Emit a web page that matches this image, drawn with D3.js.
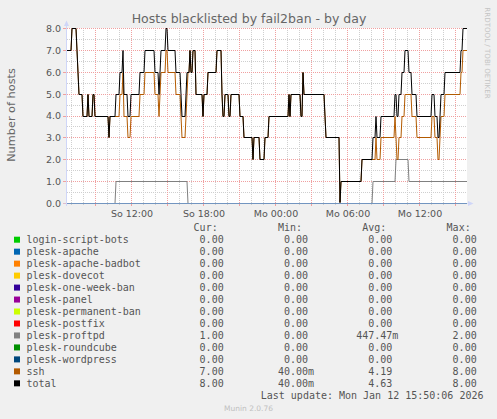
<!DOCTYPE html>
<html>
<head>
<meta charset="utf-8">
<script src="https://cdn.jsdelivr.net/npm/d3@7"></script>
<style>
  body { margin: 0; background: #f0f0f0; }
  svg { display: block; }
  text { font-family: "DejaVu Sans", sans-serif; }
  .mono { font-family: "DejaVu Sans Mono", monospace; font-size: 10px; fill: #555; }
</style>
</head>
<body>
<div id="chart"></div>
<script>
// ----- Data -----
// [day-of-month + time, value]; each value holds until the next point
const total = [
  ["11T06:35", 7], ["11T07:00", 8], ["11T07:25", 7], ["11T07:30", 6], ["11T07:35", 5],
  ["11T07:55", 4], ["11T08:20", 5], ["11T08:25", 4], ["11T08:45", 5], ["11T08:55", 4],
  ["11T10:05", 3], ["11T10:10", 4], ["11T10:40", 5], ["11T11:00", 6], ["11T11:15", 7],
  ["11T11:20", 5], ["11T11:40", 4], ["11T11:55", 5], ["11T12:40", 6], ["11T13:05", 7],
  ["11T13:55", 6], ["11T14:15", 5], ["11T14:20", 6], ["11T14:25", 7], ["11T14:50", 8],
  ["11T15:00", 7], ["11T15:40", 6], ["11T16:05", 5], ["11T16:10", 4], ["11T16:30", 5],
  ["11T16:35", 6], ["11T16:50", 7], ["11T16:55", 6], ["11T17:05", 7], ["11T17:20", 5],
  ["11T17:55", 4], ["11T18:00", 5], ["11T18:20", 6], ["11T19:05", 7], ["11T19:30", 5],
  ["11T19:35", 4], ["11T19:45", 5], ["11T20:05", 4], ["11T20:15", 5], ["11T21:00", 4],
  ["11T21:20", 3], ["11T22:05", 2], ["11T22:10", 3], ["11T22:40", 2], ["11T23:05", 3],
  ["11T23:25", 4], ["12T01:05", 5], ["12T01:10", 4], ["12T01:15", 5], ["12T02:05", 4],
  ["12T02:15", 6], ["12T02:20", 5], ["12T04:05", 4], ["12T04:10", 3], ["12T05:20", 0.04],
  ["12T05:25", 1], ["12T07:10", 2], ["12T08:05", 3], ["12T08:20", 4], ["12T08:25", 3],
  ["12T08:45", 4], ["12T09:55", 5], ["12T10:05", 4], ["12T10:15", 5], ["12T10:30", 6],
  ["12T10:45", 7], ["12T11:05", 6], ["12T11:20", 5], ["12T11:45", 4], ["12T13:00", 5],
  ["12T13:15", 4], ["12T13:30", 3], ["12T13:40", 4], ["12T13:45", 5], ["12T14:05", 6],
  ["12T15:25", 7], ["12T15:35", 8], ["12T15:55", 8]
];

const ssh = [
  ["11T06:35", 7], ["11T07:00", 8], ["11T07:25", 7], ["11T07:30", 6], ["11T07:35", 5],
  ["11T07:55", 4], ["11T08:20", 5], ["11T08:25", 4], ["11T08:45", 5], ["11T08:55", 4],
  ["11T10:05", 3], ["11T10:10", 4], ["11T11:00", 5], ["11T11:15", 6], ["11T11:20", 4],
  ["11T11:40", 3], ["11T11:55", 4], ["11T12:40", 5], ["11T13:05", 6], ["11T13:55", 5],
  ["11T14:15", 4], ["11T14:20", 5], ["11T14:25", 6], ["11T14:50", 7], ["11T15:00", 6],
  ["11T15:40", 5], ["11T16:05", 4], ["11T16:10", 3], ["11T16:30", 4], ["11T16:35", 5],
  ["11T16:40", 6], ["11T16:50", 7], ["11T16:55", 6], ["11T17:05", 7], ["11T17:20", 5],
  ["11T17:55", 4], ["11T18:00", 5], ["11T18:20", 6], ["11T19:05", 7], ["11T19:30", 5],
  ["11T19:35", 4], ["11T19:45", 5], ["11T20:05", 4], ["11T20:15", 5], ["11T21:00", 4],
  ["11T21:20", 3], ["11T22:05", 2], ["11T22:10", 3], ["11T22:40", 2], ["11T23:05", 3],
  ["11T23:25", 4], ["12T01:05", 5], ["12T01:10", 4], ["12T01:15", 5], ["12T02:05", 4],
  ["12T02:15", 6], ["12T02:20", 5], ["12T04:05", 4], ["12T04:10", 3], ["12T05:20", 0.04],
  ["12T05:25", 1], ["12T07:10", 2], ["12T08:20", 3], ["12T08:25", 2], ["12T08:45", 3],
  ["12T09:55", 4], ["12T10:00", 3], ["12T10:05", 2], ["12T10:15", 3], ["12T10:30", 4],
  ["12T10:45", 5], ["12T11:20", 4], ["12T11:45", 3], ["12T13:00", 4], ["12T13:15", 3],
  ["12T13:30", 2], ["12T13:40", 3], ["12T13:45", 4], ["12T14:05", 5], ["12T15:25", 6],
  ["12T15:35", 7], ["12T15:55", 7]
];

const proftpd = [
  ["11T06:35", 0], ["11T10:40", 1], ["11T16:40", 0], ["12T08:05", 1],
  ["12T10:00", 2], ["12T11:05", 1], ["12T15:55", 1]
];

// all other jails stayed at zero the whole day
const zero = [["11T06:35", 0], ["12T15:55", 0]];

const names = [
  "login-script-bots", "plesk-apache", "plesk-apache-badbot", "plesk-dovecot",
  "plesk-one-week-ban", "plesk-panel", "plesk-permanent-ban", "plesk-postfix",
  "plesk-proftpd", "plesk-roundcube", "plesk-wordpress", "ssh", "total"
];
const colors = [
  "#00CC00", "#0066B3", "#FF8000", "#FFCC00", "#330099", "#990099", "#CCFF00",
  "#FF0000", "#808080", "#008F00", "#00487D", "#B35A00", "#000000"
];
const curVals = ["0.00","0.00","0.00","0.00","0.00","0.00","0.00","0.00","1.00","0.00","0.00","7.00","8.00"];
const minVals = ["0.00","0.00","0.00","0.00","0.00","0.00","0.00","0.00","0.00","0.00","0.00","40.00m","40.00m"];
const avgVals = ["0.00","0.00","0.00","0.00","0.00","0.00","0.00","0.00","447.47m","0.00","0.00","4.19","4.63"];
const maxVals = ["0.00","0.00","0.00","0.00","0.00","0.00","0.00","0.00","2.00","0.00","0.00","8.00","8.00"];

const yTicks = [0, 1, 2, 3, 4, 5, 6, 7, 8];
const dayNames = ["So", "Mo", "Di", "Mi", "Do", "Fr", "Sa"];

// ----- Config -----
const width = 497, height = 419;
const parse = s => d3.timeParse("%Y-%m-%dT%H:%M")("2026-01-" + s);
const seriesData = [zero, zero, zero, zero, zero, zero, zero, zero, proftpd, zero, zero, ssh, total];

const svg = d3.select("#chart").append("svg")
  .attr("width", width).attr("height", height);

svg.append("rect").attr("width", width).attr("height", height).attr("fill", "#f0f0f0");

const x = d3.scaleTime()
  .domain([parse("11T06:35"), parse("12T15:55")])
  .range([67, 467]);
const y = d3.scaleLinear().domain([0, 8]).range([203.5, 28.5]);

// canvas
svg.append("rect").attr("x", 67).attr("y", 28).attr("width", 400).attr("height", 175).attr("fill", "#fff");

// ----- Grid -----
const hours = x.ticks(d3.timeHour.every(1));
const major = hours.filter(d => d.getHours() % 3 === 0);
const px = d => Math.round(x(d)) - 0.5;
const py = v => Math.round(y(v) - 0.5) + 0.5;   // snap to pixel centres

svg.append("g").selectAll("line").data(hours.filter(d => d.getHours() % 3 !== 0)).join("line")
  .attr("x1", px).attr("x2", px).attr("y1", 28).attr("y2", 203)
  .attr("stroke", "#cfcfcf").attr("stroke-dasharray", "1,1");
svg.append("g").selectAll("line").data(d3.range(0.5, 8, 1)).join("line")
  .attr("x1", 67).attr("x2", 467).attr("y1", py).attr("y2", py)
  .attr("stroke", "#cfcfcf").attr("stroke-dasharray", "1,1");
svg.append("g").selectAll("line").data(major).join("line")
  .attr("x1", px).attr("x2", px).attr("y1", 28).attr("y2", 203)
  .attr("stroke", "#f0a0a0").attr("stroke-dasharray", "1,1");
svg.append("g").selectAll("line").data(yTicks.slice(1)).join("line")
  .attr("x1", 67).attr("x2", 467).attr("y1", py).attr("y2", py)
  .attr("stroke", "#f0a0a0").attr("stroke-dasharray", "1,1");

// ticks under the axis
svg.append("g").selectAll("line").data(hours).join("line")
  .attr("x1", px).attr("x2", px).attr("y1", 203).attr("y2", d => d.getHours() % 3 === 0 ? 206 : 205)
  .attr("stroke", d => d.getHours() % 3 === 0 ? "#f0a0a0" : "#cfcfcf");
svg.append("g").selectAll("line").data(yTicks).join("line")
  .attr("x1", 63).attr("x2", 67).attr("y1", py).attr("y2", py)
  .attr("stroke", "#f0a0a0");

// ----- Series -----
// rrdtool joins consecutive 5-minute samples, so every change is a 1px slant
const step = 5 * 60 * 1000;
function samplePath(pts) {
  const out = [];
  pts.forEach((p, i) => {
    const t = parse(p[0]);
    if (i > 0) out.push([new Date(+t - step), pts[i - 1][1]]);
    out.push([t, p[1]]);
  });
  return out;
}

const line = d3.line()
  .x(d => x(d[0]))
  .y(d => py(d[1]));

svg.append("clipPath").attr("id", "clip")
  .append("rect").attr("x", 67).attr("y", 20).attr("width", 401).attr("height", 185);

svg.append("g").attr("clip-path", "url(#clip)")
  .selectAll("path").data(seriesData).join("path")
  .attr("d", d => line(samplePath(d)))
  .attr("fill", "none")
  .attr("stroke", (d, i) => colors[i])
  .attr("stroke-width", 1);

// ----- Axes -----
svg.append("line").attr("x1", 66.5).attr("x2", 66.5).attr("y1", 24).attr("y2", 206).attr("stroke", "#CFD6F8");
svg.append("line").attr("x1", 63).attr("x2", 470).attr("y1", 203.5).attr("y2", 203.5)
  .attr("stroke", "#CFD6F8").attr("stroke-opacity", 0.55);
svg.append("path").attr("d", "M64,26 L66.5,20.5 L69,26 Z").attr("fill", "#CFD6F8");
svg.append("path").attr("d", "M468,201 L473.5,203.5 L468,206 Z").attr("fill", "#CFD6F8");

svg.append("g").selectAll("text").data(yTicks).join("text")
  .attr("x", 61).attr("y", d => y(d)).attr("dy", "0.36em")
  .attr("text-anchor", "end").attr("font-size", "9.5px").attr("fill", "#555")
  .text(d => d3.format(".1f")(d));

svg.append("g").selectAll("text").data(hours.filter(d => d.getHours() % 6 === 0)).join("text")
  .attr("x", d => x(d)).attr("y", 216.5)
  .attr("text-anchor", "middle").attr("font-size", "9.5px").attr("fill", "#555")
  .text(d => dayNames[d.getDay()] + " " + d3.timeFormat("%H:%M")(d));

// titles
svg.append("text").attr("x", 249).attr("y", 23)
  .attr("text-anchor", "middle").attr("font-size", "12.5px").attr("fill", "#666")
  .text("Hosts blacklisted by fail2ban - by day");

svg.append("text").attr("transform", "translate(15,115) rotate(-90)")
  .attr("text-anchor", "middle").attr("font-size", "11.3px").attr("fill", "#666")
  .text("Number of hosts");

svg.append("text").attr("transform", "translate(485,53) rotate(90)")
  .attr("text-anchor", "middle").attr("font-size", "7.1px").attr("fill", "#c4c4c4")
  .text("RRDTOOL / TOBI OETIKER");

// ----- Legend -----
const colRight = [223.7, 308, 392.3, 476.7];
const columns = [curVals, minVals, avgVals, maxVals];
["Cur:", "Min:", "Avg:", "Max:"].forEach((h, j) => {
  svg.append("text").attr("class", "mono").attr("x", colRight[j] - 6).attr("y", 231.2)
    .attr("text-anchor", "end").text(h);
});

const rows = svg.append("g").selectAll("g").data(names).join("g")
  .attr("transform", (d, i) => `translate(0,${239.7 + i * 11.97})`);

rows.append("rect").attr("x", 14).attr("y", -3).attr("width", 6).attr("height", 6)
  .attr("fill", (d, i) => colors[i]);
rows.append("text").attr("class", "mono").attr("x", 26.5).attr("y", 3.5).text(d => d);

columns.forEach((vals, j) => {
  rows.append("text").attr("class", "mono").attr("x", colRight[j]).attr("y", 3.5)
    .attr("text-anchor", "end").text((d, i) => vals[i].replace("m", ""));
  rows.filter((d, i) => vals[i].endsWith("m")).append("text").attr("class", "mono")
    .attr("x", colRight[j]).attr("y", 3.5).text("m");
});

svg.append("text").attr("class", "mono").attr("x", 483.5).attr("y", 399.2)
  .attr("text-anchor", "end").text("Last update: Mon Jan 12 15:50:06 2026");

svg.append("text").attr("x", 248.5).attr("y", 410.8)
  .attr("text-anchor", "middle").attr("font-size", "7.5px").attr("fill", "#c0c0c0")
  .text("Munin 2.0.76");
</script>
</body>
</html>
